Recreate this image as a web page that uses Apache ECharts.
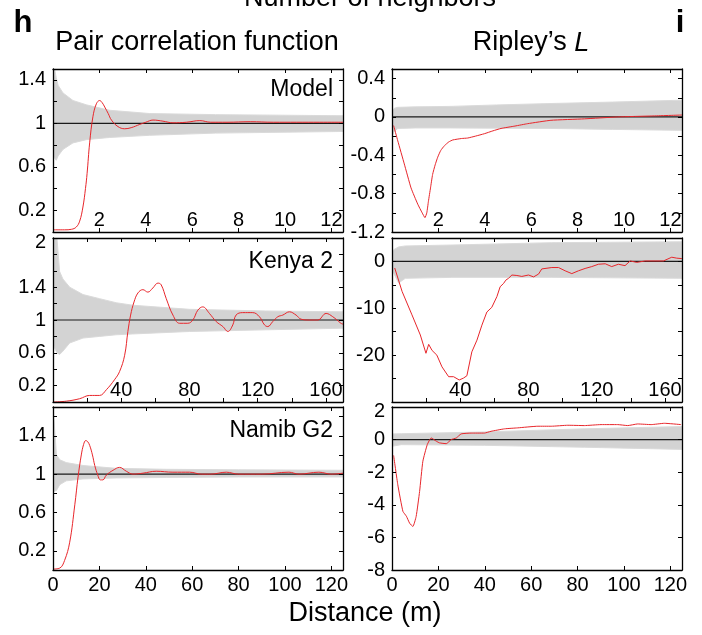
<!DOCTYPE html>
<html>
<head>
<meta charset="utf-8">
<script src="https://cdn.jsdelivr.net/npm/echarts@6/dist/echarts.min.js"></script>
<style>
    html, body { margin: 0; padding: 0; background: #fff; }
    #chart { width: 702px; height: 635px; }
</style>
</head>
<body>
<div id="chart"></div>
<script>
// ---- data ----
// pair correlation function, Model
let modelPcfX = [0, 0.5, 0.8, 1.0, 1.15, 1.29, 1.4, 1.47, 1.58, 1.72, 1.87, 2.01, 2.12, 2.23, 2.38, 2.52, 2.8, 3.09, 3.37, 3.74, 4.0, 4.31, 4.74, 5.17, 5.75, 6.33, 6.8, 7.5, 8.5, 9.5, 10.5, 11.5, 12.5];
let modelPcfY = [0.02, 0.02, 0.025, 0.045, 0.1, 0.23, 0.4, 0.54, 0.82, 1.06, 1.18, 1.21, 1.19, 1.15, 1.09, 1.03, 0.97, 0.95, 0.96, 0.99, 1.01, 1.03, 1.02, 1.005, 1.01, 1.025, 1.01, 1.01, 1.015, 1.01, 1.01, 1.01, 1.01];
let modelPcfEnvX = [0, 0.07, 0.14, 0.22, 0.43, 0.86, 1.44, 2.44, 4.17, 7.0, 12.5];
let modelPcfEnvHi = [1.9, 1.5, 1.42, 1.35, 1.28, 1.21, 1.17, 1.12, 1.09, 1.08, 1.07];
let modelPcfEnvLo = [0.7, 0.68, 0.66, 0.7, 0.76, 0.82, 0.85, 0.87, 0.89, 0.91, 0.925];

// pair correlation function, Kenya 2
let kenyaPcfX = [0, 7.8, 15.6, 21.5, 27.3, 31.3, 36, 39, 42, 43.9, 45.5, 47.5, 49.8, 52.7, 55.6, 58.5, 61.5, 63.4, 66.4, 70.3, 74.2, 79, 82, 84.9, 87.8, 91.7, 95.7, 99.6, 102.5, 105.4, 107.3, 111.2, 117.1, 121, 124, 125.9, 128.8, 131.8, 134.7, 138.6, 142.5, 145.4, 150.3, 155.2, 160.1, 164, 168.8, 170];
let kenyaPcfY = [0, 0.01, 0.04, 0.08, 0.08, 0.15, 0.27, 0.37, 0.57, 0.86, 1.06, 1.22, 1.33, 1.37, 1.34, 1.39, 1.45, 1.43, 1.26, 1.06, 0.96, 0.96, 1.0, 1.12, 1.16, 1.08, 0.98, 0.92, 0.86, 0.94, 1.06, 1.09, 1.09, 1.04, 0.94, 0.92, 0.98, 1.04, 1.06, 1.1, 1.06, 1.01, 1.0, 1.0, 1.08, 1.04, 0.96, 0.95];
let kenyaPcfEnvX = [0, 2.3, 3.9, 5.8, 9.8, 17.6, 27.3, 37.1, 46.8, 80, 124.5, 170];
let kenyaPcfEnvHi = [2.6, 2.0, 1.59, 1.5, 1.4, 1.31, 1.26, 1.21, 1.18, 1.13, 1.11, 1.1];
let kenyaPcfEnvLo = [0.7, 0.6, 0.58, 0.62, 0.72, 0.78, 0.8, 0.82, 0.83, 0.86, 0.88, 0.9];

// pair correlation function, Namib G2
let namibPcfX = [0, 2.9, 5, 7.2, 9.4, 10.8, 12.2, 13.2, 14.1, 14.9, 15.8, 17, 18, 19.3, 20.4, 21.5, 23, 25.9, 28.7, 31.6, 34.5, 38.8, 44.5, 51.7, 58.9, 64, 68, 74.7, 80, 90, 101.7, 106, 114.6, 120, 125];
let namibPcfY = [0.01, 0.02, 0.1, 0.29, 0.68, 0.97, 1.2, 1.31, 1.35, 1.34, 1.3, 1.2, 1.09, 0.99, 0.94, 0.94, 0.99, 1.04, 1.07, 1.03, 1.0, 1.01, 1.03, 1.02, 1.02, 1.0, 1.0, 1.02, 1.0, 1.0, 1.02, 1.0, 1.02, 1.0, 1.01];
let namibPcfEnvX = [0, 0.4, 1.5, 2.9, 5.7, 12.9, 27.3, 48.9, 80, 125];
let namibPcfEnvHi = [1.75, 1.58, 1.2, 1.15, 1.12, 1.09, 1.06, 1.05, 1.045, 1.04];
let namibPcfEnvLo = [0.85, 0.82, 0.83, 0.89, 0.93, 0.95, 0.96, 0.965, 0.97, 0.97];

// Ripley's L, Model
let modelLX = [0.07, 0.25, 0.53, 0.82, 1.11, 1.3, 1.42, 1.5, 1.57, 1.66, 1.75, 1.86, 1.97, 2.1, 2.26, 2.45, 2.62, 3.0, 3.26, 3.6, 3.98, 4.35, 4.7, 5.3, 5.85, 6.85, 8.29, 9.72, 11.2, 12.5];
let modelLY = [-0.09, -0.25, -0.49, -0.74, -0.91, -1.0, -1.05, -1.0, -0.88, -0.74, -0.6, -0.5, -0.42, -0.35, -0.3, -0.26, -0.24, -0.225, -0.22, -0.2, -0.175, -0.145, -0.12, -0.095, -0.07, -0.035, -0.02, 0.0, 0.01, 0.02];
let modelLEnvX = [0, 0.1, 0.25, 1, 2.54, 4.5, 6.85, 9.5, 12.5];
let modelLEnvHi = [0.06, 0.09, 0.1, 0.105, 0.11, 0.125, 0.14, 0.155, 0.175];
let modelLEnvLo = [-0.2, -0.15, -0.12, -0.115, -0.115, -0.117, -0.12, -0.13, -0.14];

// Ripley's L, Kenya 2
let kenyaLX = [1.6, 5.9, 11.7, 16.6, 19.9, 21.5, 23.5, 26.3, 29.3, 33.2, 36.1, 39.4, 41.9, 43.9, 46.8, 49.8, 52.7, 55.6, 58.5, 61.5, 63.4, 65.4, 66.7, 68.3, 70.3, 73.2, 76.1, 80, 83, 85.9, 87.8, 93.7, 97.6, 101.5, 105.4, 109.3, 113.2, 117.1, 121, 125, 128.8, 132.7, 136.6, 139.6, 143.5, 148.4, 154.2, 159.1, 164, 166.9, 169.9];
let kenyaLY = [-1.4, -6.4, -11.4, -15.7, -19.6, -17.7, -19, -20, -22.5, -24.6, -24.6, -25.3, -24.9, -24.4, -19.3, -16.8, -13.6, -10.8, -9.8, -7.5, -5.4, -4.7, -4, -3.6, -2.9, -3, -3.2, -2.9, -3.3, -2.7, -1.6, -1.3, -1.3, -2, -2.6, -2, -1.5, -1.1, -0.6, -0.5, -1.1, -0.6, -0.9, 0.1, -0.2, 0.1, 0.1, 0.1, 0.9, 0.7, 0.6];
let kenyaLEnvX = [0, 1, 3.9, 7.8, 35.1, 93.7, 170];
let kenyaLEnvHi = [2.0, 2.5, 3.1, 3.3, 3.5, 4.0, 4.2];
let kenyaLEnvLo = [-1.5, -2.5, -4.6, -3.6, -3.4, -3.4, -3.6];

// Ripley's L, Namib G2
let namibLX = [0.7, 2.5, 4.7, 6.2, 7.6, 9, 10.4, 11.9, 13.3, 15.2, 16.9, 19.1, 20.5, 23.4, 25.5, 27.7, 29.8, 34.1, 39.8, 42.7, 48.5, 54.2, 62.9, 68.6, 75.8, 82.9, 90.1, 97.3, 101.6, 105.9, 111.7, 117.4, 124.6];
let namibLY = [-0.97, -2.77, -4.4, -4.7, -5.13, -5.33, -4.72, -3.18, -1.33, -0.31, 0.1, -0.1, -0.2, -0.25, 0.0, 0.1, 0.35, 0.4, 0.4, 0.51, 0.66, 0.72, 0.82, 0.82, 0.88, 0.86, 0.92, 0.92, 0.86, 0.96, 0.92, 1.0, 0.92];
let namibLEnvX = [0, 0.4, 4, 39.8, 82.9, 125];
let namibLEnvHi = [0.3, 0.35, 0.36, 0.47, 0.66, 0.8];
let namibLEnvLo = [-0.45, -0.4, -0.31, -0.35, -0.47, -0.6];

// tick labels
let modelXLabels = [2, 4, 6, 8, 10, 12];
let kenyaXLabels = [40, 80, 120, 160];
let namibXLabels = [0, 20, 40, 60, 80, 100, 120];
let pcfYLabels = [0.2, 0.6, 1, 1.4];
let kenyaPcfYLabels = [0.2, 0.6, 1, 1.4, 2];
let modelLYLabels = [-1.2, -0.8, -0.4, 0, 0.4];
let kenyaLYLabels = [-20, -10, 0];
let namibLYLabels = [-8, -6, -4, -2, 0, 2];
let panelNames = ['Model', 'Kenya 2', 'Namib G2'];

// ---- layout ----
let FONT = '"Liberation Sans", Arial, Helvetica, sans-serif';
let RED = '#e8262b';
let GREY = '#d3d3d3';
let TICK_FONT = 20;

let panels = [
    {box: [53, 69, 290, 163], x: [0, 12.5, 2, modelXLabels, true], y: [0, 1.5, 0.2, pcfYLabels], base: 1,
        env: [modelPcfEnvX, modelPcfEnvLo, modelPcfEnvHi], line: [modelPcfX, modelPcfY], smooth: 0.4, name: panelNames[0], nameY: 90},
    {box: [53, 238, 290, 164], x: [0, 170, 20, kenyaXLabels, true], y: [0, 2, 0.2, kenyaPcfYLabels], base: 1,
        env: [kenyaPcfEnvX, kenyaPcfEnvLo, kenyaPcfEnvHi], line: [kenyaPcfX, kenyaPcfY], smooth: 0.4, name: panelNames[1], nameY: 262},
    {box: [53, 407, 290, 163], x: [0, 125, 20, namibXLabels, false], y: [0, 1.7, 0.2, pcfYLabels], base: 1,
        env: [namibPcfEnvX, namibPcfEnvLo, namibPcfEnvHi], line: [namibPcfX, namibPcfY], smooth: 0.4, name: panelNames[2], nameY: 431},
    {box: [392, 69, 290, 163], x: [0, 12.5, 2, modelXLabels, true], y: [-1.2, 0.5, 0.2, modelLYLabels], base: 0,
        env: [modelLEnvX, modelLEnvLo, modelLEnvHi], line: [modelLX, modelLY], smooth: 0.15},
    {box: [392, 238, 290, 164], x: [0, 170, 20, kenyaXLabels, true], y: [-30, 5, 5, kenyaLYLabels], base: 0,
        env: [kenyaLEnvX, kenyaLEnvLo, kenyaLEnvHi], line: [kenyaLX, kenyaLY], smooth: false},
    {box: [392, 407, 290, 163], x: [0, 125, 20, namibXLabels, false], y: [-8, 2, 2, namibLYLabels], base: 0,
        env: [namibLEnvX, namibLEnvLo, namibLEnvHi], line: [namibLX, namibLY], smooth: 0.15}
];

function pickLabel(labels, top) {
    return function (v) {
        for (let i = 0; i < labels.length; i++) {
            if (Math.abs(labels[i] - v) < 1e-6) {
                // label sitting on the top frame is nudged down a little
                if (top !== undefined && Math.abs(top - v) < 1e-6) {
                    return '{drop|' + labels[i] + '}';
                }
                return String(labels[i]);
            }
        }
        return '';
    };
}

let grids = [], xAxes = [], yAxes = [], series = [], graphics = [];

panels.forEach(function (p, i) {
    grids.push({left: p.box[0], top: p.box[1], width: p.box[2], height: p.box[3], show: false});

    let tick = {inside: true, length: 4, lineStyle: {color: '#000', width: 1}};
    let line = {show: true, onZero: false, lineStyle: {color: '#000', width: 1.3}};
    let label = {color: '#000', fontSize: TICK_FONT, fontFamily: FONT};

    xAxes.push({
        type: 'value', gridIndex: i, position: 'bottom', min: p.x[0], max: p.x[1], interval: p.x[2], z: 5,
        axisLine: line, axisTick: tick, splitLine: {show: false},
        axisLabel: Object.assign({inside: p.x[4], margin: p.x[4] ? 2 : 5, formatter: pickLabel(p.x[3])}, label)
    });
    xAxes.push({
        type: 'value', gridIndex: i, position: 'top', min: p.x[0], max: p.x[1], interval: p.x[2], z: 5,
        axisLine: line, axisTick: tick, splitLine: {show: false}, axisLabel: {show: false}
    });
    yAxes.push({
        type: 'value', gridIndex: i, position: 'left', min: p.y[0], max: p.y[1], interval: p.y[2], z: 5,
        axisLine: line, axisTick: tick, splitLine: {show: false},
        axisLabel: Object.assign({margin: 7, formatter: pickLabel(p.y[3], p.y[1]),
            rich: {drop: {fontSize: TICK_FONT, fontFamily: FONT, color: '#000', padding: [9, 0, 0, 0]}}}, label)
    });
    yAxes.push({
        type: 'value', gridIndex: i, position: 'right', min: p.y[0], max: p.y[1], interval: p.y[2], z: 5,
        axisLine: line, axisTick: tick, splitLine: {show: false}, axisLabel: {show: false}
    });

    let env = p.env;
    series.push({
        type: 'custom', xAxisIndex: 2 * i, yAxisIndex: 2 * i, silent: true, clip: true, z: 1,
        data: env[0].map(function (x, k) { return [x, env[1][k], env[2][k]]; }),
        encode: {x: 0, y: [1, 2]},
        renderItem: function (params, api) {
            if (params.dataIndex !== 0) return null;
            let pts = [];
            for (let k = 0; k < env[0].length; k++) pts.push(api.coord([env[0][k], env[2][k]]));
            for (let k = env[0].length - 1; k >= 0; k--) pts.push(api.coord([env[0][k], env[1][k]]));
            return {type: 'polygon', shape: {points: pts}, style: {fill: GREY, stroke: '#dadada', lineWidth: 1}};
        }
    });
    series.push({
        type: 'line', xAxisIndex: 2 * i, yAxisIndex: 2 * i, silent: true, z: 2, showSymbol: false,
        data: [[p.x[0], p.base], [p.x[1], p.base]],
        lineStyle: {color: '#1a1a1a', width: 1.2}
    });
    series.push({
        type: 'line', xAxisIndex: 2 * i, yAxisIndex: 2 * i, silent: true, z: 3, showSymbol: false, clip: true,
        smooth: p.smooth,
        data: p.line[0].map(function (x, k) { return [x, p.line[1][k]]; }),
        lineStyle: {color: RED, width: 1}
    });

    if (p.name) {
        graphics.push({type: 'text', x: p.box[0] + p.box[2] - 10, y: p.nameY, z: 10,
            style: {text: p.name, fontSize: 23, fontFamily: FONT, fill: '#000', align: 'right', verticalAlign: 'middle'}});
    }
});

function txt(s, x, y, size, extra) {
    return {type: 'text', x: x, y: y, z: 10,
        style: Object.assign({text: s, fontSize: size, fontFamily: FONT, fill: '#000', align: 'center', verticalAlign: 'middle'}, extra || {})};
}

graphics.push(txt('Number of neighbors', 370, -1, 27));
graphics.push(txt('h', 23, 23, 31, {fontWeight: 'bold'}));
graphics.push(txt('i', 680, 23, 31, {fontWeight: 'bold'}));
graphics.push(txt('Pair correlation function', 197, 43, 27));
graphics.push(txt('Ripley\u2019s {it|L}', 531, 43, 27,
    {rich: {it: {fontStyle: 'italic', fontSize: 27, fontFamily: FONT, fill: '#000'}}}));
graphics.push(txt('Distance (m)', 365, 614, 27));

let chart = echarts.init(document.getElementById('chart'), null, {renderer: 'canvas'});
chart.setOption({
    animation: false,
    backgroundColor: '#fff',
    grid: grids,
    xAxis: xAxes,
    yAxis: yAxes,
    series: series,
    graphic: graphics
});
</script>
</body>
</html>
